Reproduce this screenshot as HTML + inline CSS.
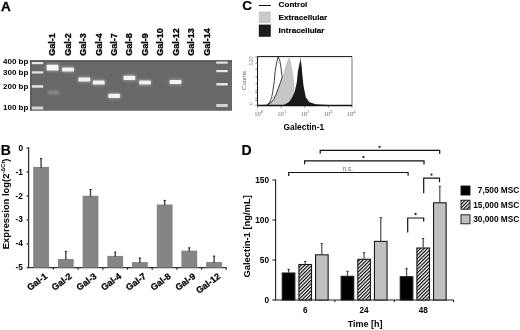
<!DOCTYPE html><html><head><meta charset="utf-8"><style>html,body{margin:0;padding:0;background:#fff;overflow:hidden}svg{display:block;will-change:transform}text{font-family:"Liberation Sans",sans-serif;font-weight:bold}</style></head><body>
<svg width="520" height="330" viewBox="0 0 520 330">
<defs>
<filter id="bl" x="-50%" y="-100%" width="200%" height="300%"><feGaussianBlur stdDeviation="0.55"/></filter>
<filter id="bl2" x="-50%" y="-100%" width="200%" height="300%"><feGaussianBlur stdDeviation="1.2"/></filter>
<pattern id="hatch" patternUnits="userSpaceOnUse" width="2.5" height="2.5" patternTransform="rotate(45)"><rect width="2.5" height="2.5" fill="#fff"/><rect width="1.15" height="2.5" fill="#000"/></pattern>
</defs>
<text x="0.9" y="10.9" font-size="13.5" stroke="#000" stroke-width="0.3">A</text>
<text x="0.8" y="154.8" font-size="14" stroke="#000" stroke-width="0.2">B</text>
<text x="242.2" y="10.0" font-size="13.6" stroke="#000" stroke-width="0.2">C</text>
<text x="241.5" y="154.8" font-size="14" stroke="#000" stroke-width="0.2">D</text>
<text transform="translate(55.20,55.8) rotate(-90)" font-size="9" stroke="#000" stroke-width="0.3">Gal-1</text>
<text transform="translate(70.65,55.8) rotate(-90)" font-size="9" stroke="#000" stroke-width="0.3">Gal-2</text>
<text transform="translate(86.10,55.8) rotate(-90)" font-size="9" stroke="#000" stroke-width="0.3">Gal-3</text>
<text transform="translate(101.55,55.8) rotate(-90)" font-size="9" stroke="#000" stroke-width="0.3">Gal-4</text>
<text transform="translate(117.00,55.8) rotate(-90)" font-size="9" stroke="#000" stroke-width="0.3">Gal-7</text>
<text transform="translate(132.45,55.8) rotate(-90)" font-size="9" stroke="#000" stroke-width="0.3">Gal-8</text>
<text transform="translate(147.90,55.8) rotate(-90)" font-size="9" stroke="#000" stroke-width="0.3">Gal-9</text>
<text transform="translate(163.35,55.8) rotate(-90)" font-size="9" stroke="#000" stroke-width="0.3">Gal-10</text>
<text transform="translate(178.80,55.8) rotate(-90)" font-size="9" stroke="#000" stroke-width="0.3">Gal-12</text>
<text transform="translate(194.25,55.8) rotate(-90)" font-size="9" stroke="#000" stroke-width="0.3">Gal-13</text>
<text transform="translate(209.70,55.8) rotate(-90)" font-size="9" stroke="#000" stroke-width="0.3">Gal-14</text>
<text x="28.4" y="64.3" font-size="8" text-anchor="end">400 bp</text>
<text x="28.4" y="75.4" font-size="8" text-anchor="end">300 bp</text>
<text x="28.4" y="88.7" font-size="8" text-anchor="end">200 bp</text>
<text x="28.4" y="110.3" font-size="8" text-anchor="end">100 bp</text>
<rect x="30.2" y="60.3" width="201.8" height="50.5" fill="#686868"/>
<rect x="30.2" y="60.3" width="201.8" height="1.6" fill="#555"/>
<rect x="30.2" y="60.3" width="1.3" height="50.5" fill="#555"/>
<rect x="31.8" y="62.0" width="11.4" height="2.2" fill="#e6e6e6" filter="url(#bl)"/>
<rect x="31.8" y="71.3" width="11.4" height="2.2" fill="#e6e6e6" filter="url(#bl)"/>
<rect x="31.8" y="85.2" width="11.4" height="2.5" fill="#e6e6e6" filter="url(#bl)"/>
<rect x="31.8" y="106.5" width="11.4" height="3.0" fill="#d4d4d4" filter="url(#bl)"/>
<rect x="216.3" y="61.5" width="11.4" height="2.2" fill="#e6e6e6" filter="url(#bl)"/>
<rect x="216.3" y="70.0" width="11.4" height="2.2" fill="#e6e6e6" filter="url(#bl)"/>
<rect x="216.3" y="83.0" width="11.4" height="2.5" fill="#e6e6e6" filter="url(#bl)"/>
<rect x="216.3" y="104.0" width="11.4" height="3.0" fill="#d4d4d4" filter="url(#bl)"/>
<rect x="45.6" y="63.3" width="14" height="8.8" rx="2" fill="#8a8a8a" filter="url(#bl2)"/>
<rect x="61.0" y="66.1" width="14" height="7.0" rx="2" fill="#8a8a8a" filter="url(#bl2)"/>
<rect x="77.3" y="76.1" width="14" height="7.0" rx="2" fill="#8a8a8a" filter="url(#bl2)"/>
<rect x="91.7" y="79.1" width="14" height="7.0" rx="2" fill="#8a8a8a" filter="url(#bl2)"/>
<rect x="107.2" y="92.3" width="14" height="7.2" rx="2" fill="#8a8a8a" filter="url(#bl2)"/>
<rect x="122.4" y="74.2" width="14" height="7.2" rx="2" fill="#8a8a8a" filter="url(#bl2)"/>
<rect x="138.0" y="79.1" width="14" height="6.8" rx="2" fill="#8a8a8a" filter="url(#bl2)"/>
<rect x="168.5" y="78.6" width="14" height="6.8" rx="2" fill="#8a8a8a" filter="url(#bl2)"/>
<rect x="46.7" y="64.8" width="11.8" height="5.8" rx="1.2" fill="#f8f8f8" filter="url(#bl)"/>
<rect x="62.1" y="67.6" width="11.8" height="4.0" rx="1.2" fill="#f4f4f4" filter="url(#bl)"/>
<rect x="78.4" y="77.6" width="11.8" height="4.0" rx="1.2" fill="#f2f2f2" filter="url(#bl)"/>
<rect x="92.8" y="80.6" width="11.8" height="4.0" rx="1.2" fill="#f2f2f2" filter="url(#bl)"/>
<rect x="108.3" y="93.8" width="11.8" height="4.2" rx="1.2" fill="#f4f4f4" filter="url(#bl)"/>
<rect x="123.5" y="75.7" width="11.8" height="4.2" rx="1.2" fill="#f4f4f4" filter="url(#bl)"/>
<rect x="139.1" y="80.6" width="11.8" height="3.8" rx="1.2" fill="#f0f0f0" filter="url(#bl)"/>
<rect x="169.6" y="80.1" width="11.8" height="3.8" rx="1.2" fill="#f4f4f4" filter="url(#bl)"/>
<rect x="47.5" y="90.5" width="11.5" height="4" rx="1.2" fill="#888" filter="url(#bl2)"/>
<g stroke="#333" stroke-width="1.3" fill="none">
<line x1="28.6" y1="147.5" x2="28.6" y2="267.7"/>
<line x1="28.1" y1="267.7" x2="226.4" y2="267.7"/>
<line x1="26.6" y1="148.0" x2="28.6" y2="148.0"/>
<line x1="26.6" y1="171.9" x2="28.6" y2="171.9"/>
<line x1="26.6" y1="195.9" x2="28.6" y2="195.9"/>
<line x1="26.6" y1="219.8" x2="28.6" y2="219.8"/>
<line x1="26.6" y1="243.8" x2="28.6" y2="243.8"/>
<line x1="26.6" y1="267.7" x2="28.6" y2="267.7"/>
<line x1="53.4" y1="267.7" x2="53.4" y2="269.7"/>
<line x1="78.1" y1="267.7" x2="78.1" y2="269.7"/>
<line x1="102.8" y1="267.7" x2="102.8" y2="269.7"/>
<line x1="127.5" y1="267.7" x2="127.5" y2="269.7"/>
<line x1="152.2" y1="267.7" x2="152.2" y2="269.7"/>
<line x1="176.9" y1="267.7" x2="176.9" y2="269.7"/>
<line x1="201.6" y1="267.7" x2="201.6" y2="269.7"/>
<line x1="226.3" y1="267.7" x2="226.3" y2="269.7"/>
</g>
<text x="23" y="150.6" font-size="8.3" text-anchor="end">0</text>
<text x="23" y="174.5" font-size="8.3" text-anchor="end">-1</text>
<text x="23" y="198.5" font-size="8.3" text-anchor="end">-2</text>
<text x="23" y="222.4" font-size="8.3" text-anchor="end">-3</text>
<text x="23" y="246.4" font-size="8.3" text-anchor="end">-4</text>
<text x="23" y="270.3" font-size="8.3" text-anchor="end">-5</text>
<rect x="33.2" y="166.9" width="15.8" height="100.8" fill="#858585"/>
<line x1="41.1" y1="158.2" x2="41.1" y2="167.9" stroke="#444" stroke-width="1.4"/>
<line x1="40.0" y1="158.6" x2="42.2" y2="158.6" stroke="#222" stroke-width="1"/>
<text transform="translate(47.9,277.4) rotate(-37)" font-size="9" text-anchor="end" stroke="#000" stroke-width="0.25">Gal-1</text>
<rect x="57.9" y="259.0" width="15.8" height="8.7" fill="#858585"/>
<line x1="65.8" y1="251.0" x2="65.8" y2="260.0" stroke="#444" stroke-width="1.4"/>
<line x1="64.8" y1="251.4" x2="66.9" y2="251.4" stroke="#222" stroke-width="1"/>
<text transform="translate(72.6,277.4) rotate(-37)" font-size="9" text-anchor="end" stroke="#000" stroke-width="0.25">Gal-2</text>
<rect x="82.6" y="195.8" width="15.8" height="71.9" fill="#858585"/>
<line x1="90.5" y1="189.1" x2="90.5" y2="196.8" stroke="#444" stroke-width="1.4"/>
<line x1="89.5" y1="189.5" x2="91.6" y2="189.5" stroke="#222" stroke-width="1"/>
<text transform="translate(97.3,277.4) rotate(-37)" font-size="9" text-anchor="end" stroke="#000" stroke-width="0.25">Gal-3</text>
<rect x="107.3" y="255.9" width="15.8" height="11.8" fill="#858585"/>
<line x1="115.2" y1="251.8" x2="115.2" y2="256.9" stroke="#444" stroke-width="1.4"/>
<line x1="114.2" y1="252.20000000000002" x2="116.3" y2="252.20000000000002" stroke="#222" stroke-width="1"/>
<text transform="translate(122.0,277.4) rotate(-37)" font-size="9" text-anchor="end" stroke="#000" stroke-width="0.25">Gal-4</text>
<rect x="132.0" y="262.1" width="15.8" height="5.6" fill="#858585"/>
<line x1="139.9" y1="257.7" x2="139.9" y2="263.1" stroke="#444" stroke-width="1.4"/>
<line x1="138.8" y1="258.09999999999997" x2="141.0" y2="258.09999999999997" stroke="#222" stroke-width="1"/>
<text transform="translate(146.8,277.4) rotate(-37)" font-size="9" text-anchor="end" stroke="#000" stroke-width="0.25">Gal-7</text>
<rect x="156.8" y="204.5" width="15.8" height="63.2" fill="#858585"/>
<line x1="164.7" y1="200.0" x2="164.7" y2="205.5" stroke="#444" stroke-width="1.4"/>
<line x1="163.6" y1="200.4" x2="165.8" y2="200.4" stroke="#222" stroke-width="1"/>
<text transform="translate(171.5,277.4) rotate(-37)" font-size="9" text-anchor="end" stroke="#000" stroke-width="0.25">Gal-8</text>
<rect x="181.4" y="250.6" width="15.8" height="17.1" fill="#858585"/>
<line x1="189.3" y1="247.5" x2="189.3" y2="251.6" stroke="#444" stroke-width="1.4"/>
<line x1="188.2" y1="247.9" x2="190.4" y2="247.9" stroke="#222" stroke-width="1"/>
<text transform="translate(196.2,277.4) rotate(-37)" font-size="9" text-anchor="end" stroke="#000" stroke-width="0.25">Gal-9</text>
<rect x="206.2" y="262.0" width="15.8" height="5.7" fill="#858585"/>
<line x1="214.1" y1="255.8" x2="214.1" y2="263.0" stroke="#444" stroke-width="1.4"/>
<line x1="213.0" y1="256.2" x2="215.2" y2="256.2" stroke="#222" stroke-width="1"/>
<text transform="translate(220.9,277.4) rotate(-37)" font-size="9" text-anchor="end" stroke="#000" stroke-width="0.25">Gal-12</text>
<text transform="translate(8.5,249.2) rotate(-90)" font-size="9.4">Expression log(2<tspan font-size="5.7" dy="-3.6">-ΔCt</tspan><tspan dy="3.6">)</tspan></text>
<line x1="258.8" y1="5.5" x2="270.8" y2="5.5" stroke="#111" stroke-width="1"/>
<rect x="258.8" y="11.5" width="12" height="11.6" fill="#c9c9c9"/>
<rect x="258.8" y="24.6" width="12" height="12.2" fill="#1c1c1c"/>
<text x="278.6" y="6.9" font-size="8.1" stroke="#000" stroke-width="0.15">Control</text>
<text x="278.6" y="19.9" font-size="8.1" stroke="#000" stroke-width="0.15">Extracellular</text>
<text x="278.6" y="33.2" font-size="8.1" stroke="#000" stroke-width="0.15">Intracellular</text>
<path d="M265,105.5 L268,104.2 L270.5,103.1 L273.6,99.3 L275.9,94.6 L278.2,88.5 L280.5,82.3 L282.1,77.6 L283.6,73 L285.2,66.8 L287.5,60.6 L289,57.2 L290.6,60.6 L292.1,68.4 L293.7,77.6 L294.5,86.9 L293.5,93 L291.5,99 L289,103 L285,105.5 Z" fill="#c6c6c6"/>
<path d="M283,105.5 L289,102.1 L292.2,97.3 L294.8,91 L296.8,82.5 L297.8,72 L299,66 L300.2,60.4 L300.5,57 L300.8,60.4 L301.6,66 L302.4,75.2 L303.5,85.8 L305.8,97.3 L309.2,102.1 L315.6,104.2 L323,104.8 L340,105.5 Z" fill="#1a1a1a"/>
<path d="M262,105.5 L266.6,105.2 L269.7,102.4 L271.6,97.7 L272.8,91.5 L274.4,80.7 L275.1,71.5 L276.7,62.2 L278.2,57.0 L279.8,60.6 L281.3,69.9 L282.1,77.6 L280.5,82.3 L278.2,88.5 L275.9,94.6 L273.6,99.3 L270.5,103.1 L267,105" fill="none" stroke="#111" stroke-width="0.8"/>
<path d="M352.0,56.6 L352.0,105.5" stroke="#777" stroke-width="1" fill="none"/>
<path d="M257.5,105.5 L257.5,56.6 L352.0,56.6" stroke="#111" stroke-width="1" fill="none"/>
<path d="M257.5,105.5 L352.0,105.5" stroke="#111" stroke-width="1.5" fill="none"/>
<line x1="255.3" y1="57" x2="257.5" y2="57" stroke="#555" stroke-width="0.7"/>
<line x1="255.3" y1="63.1" x2="257.5" y2="63.1" stroke="#555" stroke-width="0.7"/>
<line x1="255.3" y1="69.2" x2="257.5" y2="69.2" stroke="#555" stroke-width="0.7"/>
<line x1="255.3" y1="77" x2="257.5" y2="77" stroke="#555" stroke-width="0.7"/>
<line x1="255.3" y1="83.7" x2="257.5" y2="83.7" stroke="#555" stroke-width="0.7"/>
<line x1="255.3" y1="90.4" x2="257.5" y2="90.4" stroke="#555" stroke-width="0.7"/>
<line x1="255.3" y1="92.7" x2="257.5" y2="92.7" stroke="#555" stroke-width="0.7"/>
<line x1="255.3" y1="98.2" x2="257.5" y2="98.2" stroke="#555" stroke-width="0.7"/>
<line x1="255.3" y1="100.6" x2="257.5" y2="100.6" stroke="#555" stroke-width="0.7"/>
<line x1="255.3" y1="105.3" x2="257.5" y2="105.3" stroke="#555" stroke-width="0.7"/>
<line x1="257.5" y1="105.5" x2="257.5" y2="107.8" stroke="#555" stroke-width="0.7"/>
<line x1="281.1" y1="105.5" x2="281.1" y2="107.8" stroke="#555" stroke-width="0.7"/>
<line x1="304.7" y1="105.5" x2="304.7" y2="107.8" stroke="#555" stroke-width="0.7"/>
<line x1="328.4" y1="105.5" x2="328.4" y2="107.8" stroke="#555" stroke-width="0.7"/>
<line x1="352.0" y1="105.5" x2="352.0" y2="107.8" stroke="#555" stroke-width="0.7"/>
<text x="254.2" y="116" font-size="6.6" fill="#6a6a6a" style="font-family:Liberation Serif,serif;font-weight:normal">10<tspan font-size="4.6" dy="-3.2">0</tspan></text>
<text x="277.3" y="116" font-size="6.6" fill="#6a6a6a" style="font-family:Liberation Serif,serif;font-weight:normal">10<tspan font-size="4.6" dy="-3.2">1</tspan></text>
<text x="300.4" y="116" font-size="6.6" fill="#6a6a6a" style="font-family:Liberation Serif,serif;font-weight:normal">10<tspan font-size="4.6" dy="-3.2">2</tspan></text>
<text x="323.5" y="116" font-size="6.6" fill="#6a6a6a" style="font-family:Liberation Serif,serif;font-weight:normal">10<tspan font-size="4.6" dy="-3.2">3</tspan></text>
<text x="346.6" y="116" font-size="6.6" fill="#6a6a6a" style="font-family:Liberation Serif,serif;font-weight:normal">10<tspan font-size="4.6" dy="-3.2">4</tspan></text>
<text transform="translate(252.6,61) rotate(-90)" font-size="5.6" fill="#808080" style="font-weight:normal" text-anchor="middle">120</text>
<text transform="translate(252.8,103.6) rotate(-90)" font-size="5.5" fill="#999" style="font-weight:normal" text-anchor="middle">0</text>
<text transform="translate(246.4,80.4) rotate(-90)" font-size="6" fill="#606060" style="font-weight:normal" text-anchor="middle">Counts</text>
<text x="283.6" y="129.6" font-size="8.4">Galectin-1</text>
<g stroke="#222" stroke-width="1.1" fill="none">
<line x1="275.6" y1="179.5" x2="275.6" y2="300"/>
<line x1="275.1" y1="300" x2="453.8" y2="300"/>
<line x1="272.4" y1="300.0" x2="275.6" y2="300.0"/>
<line x1="272.4" y1="260.0" x2="275.6" y2="260.0"/>
<line x1="272.4" y1="220.0" x2="275.6" y2="220.0"/>
<line x1="272.4" y1="180.0" x2="275.6" y2="180.0"/>
<line x1="334.9" y1="300" x2="334.9" y2="302"/>
<line x1="394.3" y1="300" x2="394.3" y2="302"/>
<line x1="453.5" y1="300" x2="453.5" y2="302"/>
</g>
<text x="269" y="302.9" font-size="8.3" text-anchor="end">0</text>
<text x="269" y="262.9" font-size="8.3" text-anchor="end">50</text>
<text x="269" y="222.9" font-size="8.3" text-anchor="end">100</text>
<text x="269" y="182.9" font-size="8.3" text-anchor="end">150</text>
<line x1="288.6" y1="268.9" x2="288.6" y2="272.5" stroke="#444" stroke-width="1.15"/>
<line x1="287.4" y1="269.29999999999995" x2="289.7" y2="269.29999999999995" stroke="#333" stroke-width="1"/>
<rect x="282.25" y="273.0" width="12.6" height="27.0" fill="#000" stroke="#1a1a1a" stroke-width="1.1"/>
<line x1="305.2" y1="261.0" x2="305.2" y2="264.0" stroke="#444" stroke-width="1.15"/>
<line x1="304.1" y1="261.4" x2="306.3" y2="261.4" stroke="#333" stroke-width="1"/>
<rect x="298.90" y="264.5" width="12.6" height="35.5" fill="url(#hatch)" stroke="#1a1a1a" stroke-width="1.1"/>
<line x1="321.8" y1="243.2" x2="321.8" y2="254.3" stroke="#444" stroke-width="1.15"/>
<line x1="320.7" y1="243.6" x2="322.9" y2="243.6" stroke="#333" stroke-width="1"/>
<rect x="315.55" y="254.8" width="12.6" height="45.2" fill="#c0c0c0" stroke="#1a1a1a" stroke-width="1.1"/>
<text x="305.2" y="312.6" font-size="8.2" text-anchor="middle">6</text>
<line x1="347.5" y1="270.9" x2="347.5" y2="275.8" stroke="#444" stroke-width="1.15"/>
<line x1="346.4" y1="271.29999999999995" x2="348.6" y2="271.29999999999995" stroke="#333" stroke-width="1"/>
<rect x="341.15" y="276.3" width="12.6" height="23.7" fill="#000" stroke="#1a1a1a" stroke-width="1.1"/>
<line x1="364.1" y1="252.2" x2="364.1" y2="258.8" stroke="#444" stroke-width="1.15"/>
<line x1="363.0" y1="252.6" x2="365.2" y2="252.6" stroke="#333" stroke-width="1"/>
<rect x="357.80" y="259.3" width="12.6" height="40.7" fill="url(#hatch)" stroke="#1a1a1a" stroke-width="1.1"/>
<line x1="380.8" y1="217.3" x2="380.8" y2="240.9" stroke="#444" stroke-width="1.15"/>
<line x1="379.6" y1="217.70000000000002" x2="381.9" y2="217.70000000000002" stroke="#333" stroke-width="1"/>
<rect x="374.45" y="241.4" width="12.6" height="58.6" fill="#c0c0c0" stroke="#1a1a1a" stroke-width="1.1"/>
<text x="364.1" y="312.6" font-size="8.2" text-anchor="middle">24</text>
<line x1="406.6" y1="268.3" x2="406.6" y2="276.2" stroke="#444" stroke-width="1.15"/>
<line x1="405.4" y1="268.7" x2="407.7" y2="268.7" stroke="#333" stroke-width="1"/>
<rect x="400.25" y="276.7" width="12.6" height="23.3" fill="#000" stroke="#1a1a1a" stroke-width="1.1"/>
<line x1="423.2" y1="238.1" x2="423.2" y2="247.5" stroke="#444" stroke-width="1.15"/>
<line x1="422.1" y1="238.5" x2="424.3" y2="238.5" stroke="#333" stroke-width="1"/>
<rect x="416.90" y="248.0" width="12.6" height="52.0" fill="url(#hatch)" stroke="#1a1a1a" stroke-width="1.1"/>
<line x1="439.8" y1="185.9" x2="439.8" y2="202.3" stroke="#444" stroke-width="1.15"/>
<line x1="438.7" y1="186.3" x2="440.9" y2="186.3" stroke="#333" stroke-width="1"/>
<rect x="433.55" y="202.8" width="12.6" height="97.2" fill="#c0c0c0" stroke="#1a1a1a" stroke-width="1.1"/>
<text x="423.2" y="312.6" font-size="8.2" text-anchor="middle">48</text>
<text x="365.2" y="327.3" font-size="9" text-anchor="middle">Time [h]</text>
<text transform="translate(250.2,277.5) rotate(-90)" font-size="9.4">Galectin-1 [ng/mL]</text>
<path d="M288.7,176.0 L288.7,172.5 L408.1,172.5 L408.1,175.7" fill="none" stroke="#111" stroke-width="1.2"/>
<path d="M304.6,164.3 L304.6,160.9 L424.0,160.9 L424.0,164.5" fill="none" stroke="#111" stroke-width="1.2"/>
<path d="M320.2,153.70000000000002 L320.2,150.3 L439.7,150.3 L439.7,154.0" fill="none" stroke="#111" stroke-width="1.2"/>
<path d="M423.7,193.2 L423.7,178.2 L439.5,178.2 L439.5,182.29999999999998" fill="none" stroke="#111" stroke-width="1.2"/>
<path d="M407.7,232.4 L407.7,218.0 L423.7,218.0 L423.7,221.5" fill="none" stroke="#111" stroke-width="1.2"/>
<circle cx="379.6" cy="146.8" r="1.15" fill="#222"/>
<circle cx="363.4" cy="157.1" r="1.15" fill="#222"/>
<circle cx="431.5" cy="174.6" r="1.15" fill="#222"/>
<circle cx="415.6" cy="214.0" r="1.15" fill="#222"/>
<text x="347.9" y="170.6" font-size="6.3" fill="#666" style="font-weight:normal" text-anchor="middle">n.s.</text>
<rect x="461" y="186.0" width="9" height="9" fill="#000" stroke="#111" stroke-width="0.9"/>
<rect x="461" y="200.2" width="9" height="9" fill="url(#hatch)" stroke="#111" stroke-width="0.9"/>
<rect x="461" y="214.8" width="9" height="9" fill="#c0c0c0" stroke="#111" stroke-width="0.9"/>
<text x="519.3" y="193.2" font-size="8.3" text-anchor="end">7,500 MSC</text>
<text x="519.3" y="207.5" font-size="8.3" text-anchor="end">15,000 MSC</text>
<text x="519.3" y="221.9" font-size="8.3" text-anchor="end">30,000 MSC</text>
</svg></body></html>
